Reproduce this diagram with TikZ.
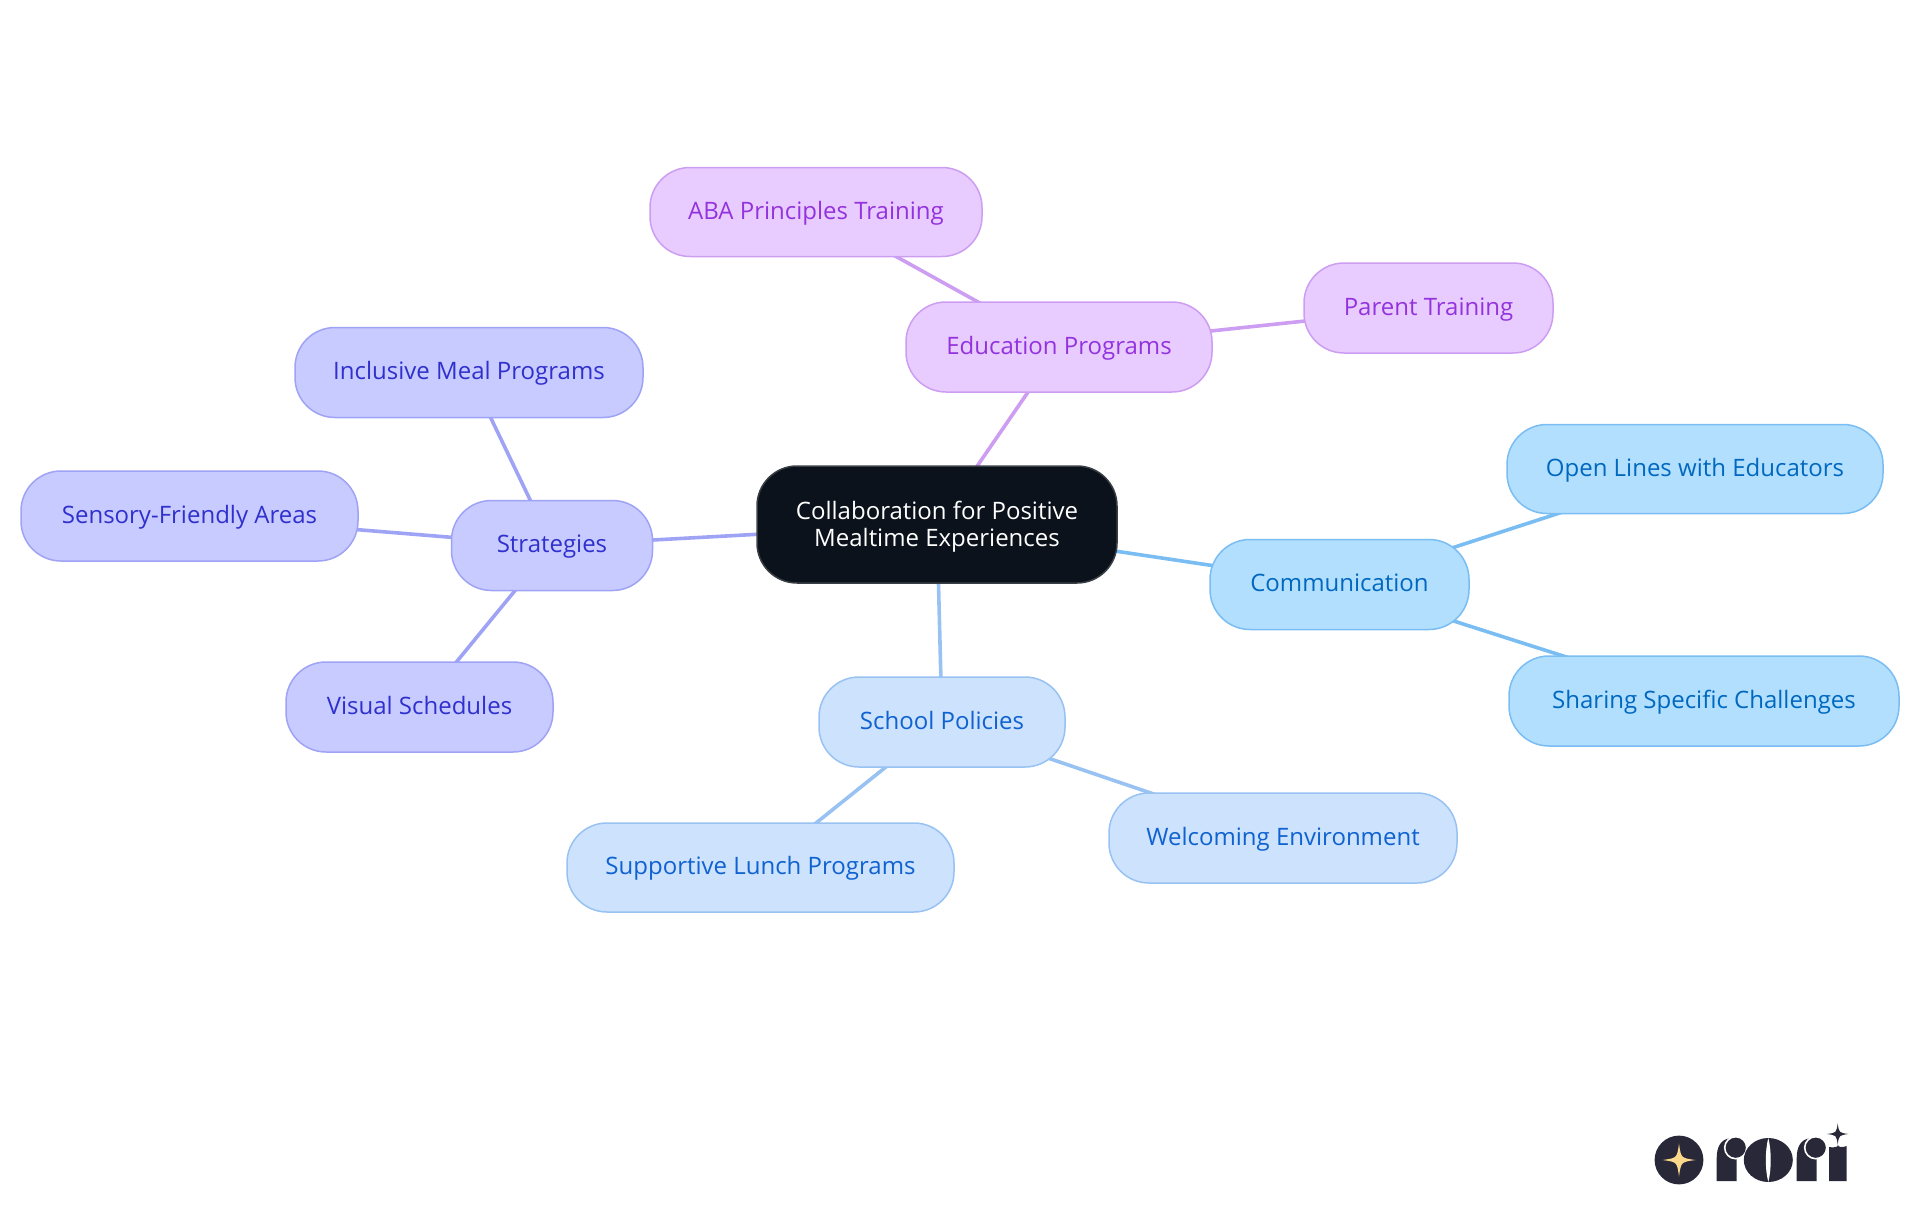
\documentclass[tikz,border=0pt]{standalone}
\usepackage{fontspec}
\setmainfont{Open Sans}
\usetikzlibrary{backgrounds}
\definecolor{rootfill}{HTML}{0B121B}
\definecolor{rootline}{HTML}{3A3F46}
\definecolor{purfill}{HTML}{E9CCFF}\definecolor{purline}{HTML}{CD9DF2}\definecolor{purtext}{HTML}{9333DD}
\definecolor{indfill}{HTML}{C8CBFF}\definecolor{indline}{HTML}{9FA3F5}\definecolor{indtext}{HTML}{3030CC}
\definecolor{skyfill}{HTML}{B3DFFF}\definecolor{skyline}{HTML}{7ABDF2}\definecolor{skytext}{HTML}{0068BF}
\definecolor{bluefill}{HTML}{CCE2FD}\definecolor{blueline}{HTML}{98C2F2}\definecolor{bluetext}{HTML}{0F62CF}
\definecolor{logoink}{HTML}{292838}\definecolor{logostar}{HTML}{FBD98A}
\tikzset{
  x=1pt,y=-1pt,
  mapnode/.style={rectangle,rounded corners=40pt,inner sep=0pt,line width=1.5pt,align=center,
    font=\fontsize{24}{27}\selectfont},
  leafnode/.style={mapnode,text height=18pt,text depth=4pt},
  purnode/.style={leafnode,fill=purfill,draw=purline,text=purtext},
  indnode/.style={leafnode,fill=indfill,draw=indline,text=indtext},
  skynode/.style={leafnode,fill=skyfill,draw=skyline,text=skytext},
  bluenode/.style={leafnode,fill=bluefill,draw=blueline,text=bluetext},
  rootnode/.style={mapnode,fill=rootfill,draw=rootline,text=white},
  link/.style={line width=3.6pt},
  fourstar/.pic={\fill (0,-1) .. controls (.12,-.12) .. (1,0) .. controls (.12,.12) .. (0,1) .. controls (-.12,.12) .. (-1,0) .. controls (-.12,-.12) .. (0,-1) -- cycle;},
  logor/.pic={
    \fill[logoink] (0,43) -- (0,20) .. controls (0,9) and (4,2) .. (12,.5) -- (20,12) -- (20,43) -- cycle;
    \filldraw[fill=logoink,draw=white,line width=1.6pt] (19,9.7) circle (11);
  }
}
\begin{document}
\begin{tikzpicture}
\useasboundingbox (0,0) rectangle (1920,1215);
\node[rootnode,minimum width=360pt,minimum height=117pt] (root) at (937,524.5) {\rule{0pt}{23.5pt}Collaboration for Positive\\Mealtime Experiences};
\node[purnode,minimum width=306pt,minimum height=90pt] (edu) at (1059,347) {Education Programs};
\node[purnode,minimum width=332pt,minimum height=89pt] (aba) at (816,212) {ABA Principles Training};
\node[purnode,minimum width=249pt,minimum height=90pt] (parent) at (1428.5,308) {Parent Training};
\node[indnode,minimum width=201pt,minimum height=90pt] (strat) at (552,545.5) {Strategies};
\node[indnode,minimum width=348pt,minimum height=90pt] (incl) at (469,372.5) {Inclusive Meal Programs};
\node[indnode,minimum width=337pt,minimum height=90pt] (sens) at (189.5,516) {Sensory-Friendly Areas};
\node[indnode,minimum width=267pt,minimum height=90pt] (vis) at (419.5,707) {Visual Schedules};
\node[skynode,minimum width=259pt,minimum height=90pt] (comm) at (1339.5,584.5) {Communication};
\node[skynode,minimum width=376pt,minimum height=89pt] (open) at (1695,469) {Open Lines with Educators};
\node[skynode,minimum width=390pt,minimum height=90pt] (shar) at (1704,701) {Sharing Specific Challenges};
\node[bluenode,minimum width=246pt,minimum height=90pt] (sch) at (942,722) {School Policies};
\node[bluenode,minimum width=387pt,minimum height=89pt] (supp) at (760.5,867.5) {Supportive Lunch Programs};
\node[bluenode,minimum width=348pt,minimum height=90pt] (welc) at (1283,838) {Welcoming Environment};
\begin{scope}[on background layer]
\draw[link,purline] (root.center) -- (edu.center);
\draw[link,purline] (edu.center) -- (aba.center);
\draw[link,purline] (edu.center) -- (parent.center);
\draw[link,indline] (root.center) -- (strat.center);
\draw[link,indline] (strat.center) -- (incl.center);
\draw[link,indline] (strat.center) -- (sens.center);
\draw[link,indline] (strat.center) -- (vis.center);
\draw[link,skyline] (root.center) -- (comm.center);
\draw[link,skyline] (comm.center) -- (open.center);
\draw[link,skyline] (comm.center) -- (shar.center);
\draw[link,blueline] (root.center) -- (sch.center);
\draw[link,blueline] (sch.center) -- (supp.center);
\draw[link,blueline] (sch.center) -- (welc.center);
\end{scope}
% logo
\fill[logoink] (1679,1160) circle (24.4);
\pic[logostar,shift={(1679,1160)},scale=16.5] {fourstar};
\pic[shift={(1716.7,1138)}] {logor};
\fill[logoink] (1768.3,1160) ellipse (24.5 and 22);
\fill[white] (1768.3,1138) .. controls (1765,1150) and (1765,1170) .. (1768.3,1182) .. controls (1771.5,1170) and (1771.5,1150) .. (1768.3,1138) -- cycle;
\pic[shift={(1796.7,1138)}] {logor};
\fill[logoink] (1829,1181) -- (1829,1147) .. controls (1834,1148) and (1838,1147) .. (1838,1145) .. controls (1838,1147) and (1842,1148) .. (1846.7,1146) -- (1846.7,1181) -- cycle;
\pic[logoink,shift={(1837.7,1134)},scale=10.7] {fourstar};
\end{tikzpicture}
\end{document}
